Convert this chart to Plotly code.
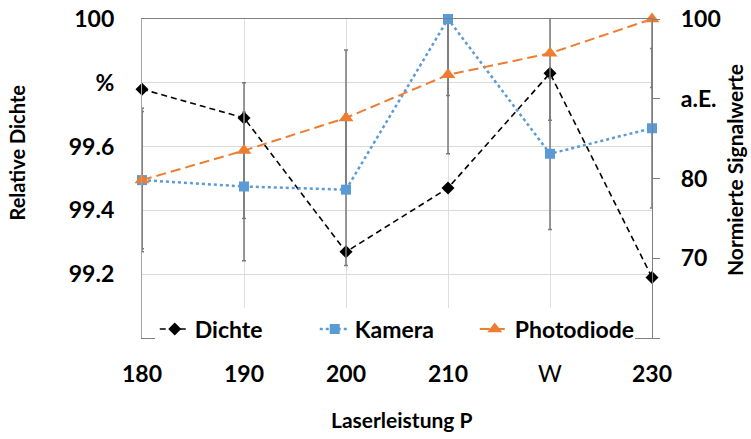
import plotly.graph_objects as go

# ---- data ----
laser_power = [180, 190, 200, 210, 220, 230]
x_tick_labels = ["<b>180</b>", "<b>190</b>", "<b>200</b>", "<b>210</b>", "W", "<b>230</b>"]

dichte = [99.78, 99.69, 99.27, 99.47, 99.83, 99.19]

kamera = [79.8, 79.0, 78.6, 100.0, 83.1, 86.3]
kamera_err = [9.0, 9.3, 9.5, 9.6, 9.5, 10.0]

photodiode = [79.8, 83.5, 87.6, 93.0, 95.7, 100.0]
photodiode_err = [8.6, 8.5, 8.5, 9.9, 8.4, 8.6]

left_tick_vals = [99.0, 99.2, 99.4, 99.6, 99.8, 100.0]
left_tick_text = ["", "99.2", "99.4", "99.6", "%", "100"]
right_tick_vals = [60, 70, 80, 90, 100]
right_tick_text = ["", "70", "80", "a.E.", "100"]

FONT = "Lato"
BLACK = "#000000"
BLUE = "#5B9BD5"
ORANGE = "#ED7D31"
ERR = "#7a7a7a"

fig = go.Figure()

# error bars (clipped to plot area)
fig.add_trace(go.Scatter(
    x=laser_power, y=kamera, yaxis="y2", mode="markers",
    marker=dict(size=1, opacity=0), showlegend=False, hoverinfo="skip",
    error_y=dict(type="data", array=kamera_err, color=ERR, thickness=1.5, width=2),
))
fig.add_trace(go.Scatter(
    x=laser_power, y=photodiode, yaxis="y2", mode="markers",
    marker=dict(size=1, opacity=0), showlegend=False, hoverinfo="skip",
    error_y=dict(type="data", array=photodiode_err, color=ERR, thickness=1.5, width=2),
))

fig.add_trace(go.Scatter(
    x=laser_power, y=dichte, name="Dichte", mode="lines+markers",
    line=dict(color=BLACK, width=1.6, dash="6px,4px"),
    marker=dict(symbol="diamond", size=10, color=BLACK),
    cliponaxis=False,
))
fig.add_trace(go.Scatter(
    x=laser_power, y=kamera, name="Kamera", mode="lines+markers", yaxis="y2",
    line=dict(color=BLUE, width=2.5, dash="dot"),
    marker=dict(symbol="square", size=10, color=BLUE),
    cliponaxis=False,
))
fig.add_trace(go.Scatter(
    x=laser_power, y=photodiode, name="Photodiode", mode="lines+markers", yaxis="y2",
    line=dict(color=ORANGE, width=2, dash="10px,5px"),
    marker=dict(symbol="triangle-up", size=13, color=ORANGE),
    cliponaxis=False,
))

fig.update_layout(
    width=751, height=439,
    margin=dict(l=142, r=99, t=19, b=101, autoexpand=False),
    paper_bgcolor="white", plot_bgcolor="white",
    font=dict(family=FONT, color="black"),
    xaxis=dict(
        range=[180, 230], tickvals=laser_power, ticktext=x_tick_labels,
        tickfont=dict(size=23, family=FONT),
        showgrid=True, gridcolor="#dedede", gridwidth=1,
        showline=True, linecolor="#7f7f7f", linewidth=1.3, mirror=True,
        ticks="outside", ticklen=15, tickcolor="rgba(0,0,0,0)",
        zeroline=False, automargin=False, ticklabeloverflow="allow",
    ),
    yaxis=dict(
        range=[99.0, 100.0], tickvals=left_tick_vals, ticktext=left_tick_text,
        tickfont=dict(size=23, family=FONT, weight="bold"),
        showgrid=True, gridcolor="#d9d9d9", gridwidth=1,
        showline=True, linecolor="#a6a6a6", linewidth=1.3,
        ticks="outside", ticklen=22, tickcolor="rgba(0,0,0,0)",
        zeroline=False, automargin=False, ticklabeloverflow="allow",
    ),
    yaxis2=dict(
        range=[60, 100], tickvals=right_tick_vals, ticktext=right_tick_text,
        tickfont=dict(size=23, family=FONT, weight="bold"),
        overlaying="y", side="right", showgrid=False,
        showline=True, linecolor="#7f7f7f", linewidth=1.3,
        ticks="outside", ticklen=7, tickcolor="#7f7f7f", ticklabelstandoff=16,
        zeroline=False, automargin=False, ticklabeloverflow="allow",
    ),
    legend=dict(
        orientation="h", x=0.025, xanchor="left", y=0.028, yanchor="middle",
        bgcolor="white", font=dict(size=23, family=FONT, weight="bold"),
        itemwidth=30, traceorder="normal",
        entrywidth=115, entrywidthmode="pixels",
    ),
    annotations=[
        dict(text="<b>Relative Dichte</b>", xref="paper", yref="paper",
             x=-0.246, y=0.58, xanchor="center", yanchor="middle",
             textangle=-90, showarrow=False,
             font=dict(size=20, family=FONT)),
        dict(text="<b>Normierte Signalwerte</b>", xref="paper", yref="paper",
             x=1.163, y=0.527, xanchor="center", yanchor="middle",
             textangle=-90, showarrow=False,
             font=dict(size=21, family=FONT)),
        dict(text="<b>Laserleistung P</b>", xref="paper", yref="paper",
             x=0.51, y=-0.257, xanchor="center", yanchor="middle",
             showarrow=False,
             font=dict(size=21, family=FONT)),
    ],
)

fig.write_html(
    "out.html",
    config={"displayModeBar": False},
    post_script="document.body.style.margin='0';",
)
